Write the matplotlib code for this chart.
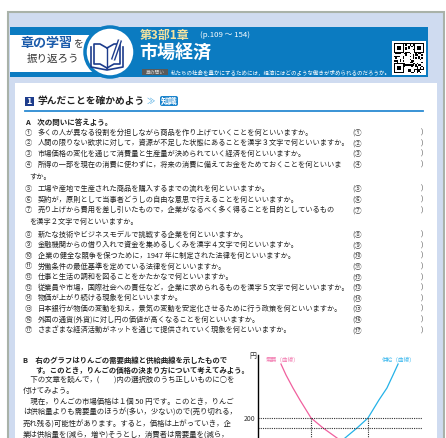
import numpy as np
import matplotlib.pyplot as plt
from matplotlib.patches import Rectangle, Circle, FancyBboxPatch

plt.rcParams['font.family'] = ['Noto Sans CJK JP', 'DejaVu Sans']

# ============================================
# Page text
# ============================================

chapter = "第3部1章"
pages = "(p.109 ～ 154)"
chapter_title = "市場経済"
chapter_question = "私たちの社会を豊かにするためには，経済にはどのような働きが求められるのだろうか。"

marks = ["①", "②", "③", "④", "⑤", "⑥", "⑦", "⑧", "⑨",
         "⑩", "⑪", "⑫", "⑬", "⑭", "⑮", "⑯", "⑰"]

questions = [
    "多くの人が異なる役割を分担しながら商品を作り上げていくことを何といいますか。",
    "人間の限りない欲求に対して，資源が不足した状態にあることを漢字３文字で何といいますか。",
    "市場価格の変化を通じて消費量と生産量が決められていく経済を何といいますか。",
    "所得の一部を現在の消費に使わずに，将来の消費に備えてお金をためておくことを何といいま",
    "工場や産地で生産された商品を購入するまでの流れを何といいますか。",
    "契約が，原則として当事者どうしの自由な意思で行えることを何といいますか。",
    "売り上げから費用を差し引いたもので，企業がなるべく多く得ることを目的としているもの",
    "新たな技術やビジネスモデルで挑戦する企業を何といいますか。",
    "金融機関からの借り入れで資金を集めるしくみを漢字４文字で何といいますか。",
    "企業の健全な競争を保つために，1947 年に制定された法律を何といいますか。",
    "労働条件の最低基準を定めている法律を何といいますか。",
    "仕事と生活の調和を図ることをかたかなで何といいますか。",
    "従業員や市場，国際社会への責任など，企業に求められるものを漢字５文字で何といいますか。",
    "物価が上がり続ける現象を何といいますか。",
    "日本銀行が物価の変動を抑え，景気の変動を安定化させるために行う政策を何といいますか。",
    "外国の通貨(外貨)に対し円の価値が高くなることを何といいますか。",
    "さまざまな経済活動がネットを通じて提供されていく現象を何といいますか。",
]

question_tails = ["", "", "", "すか。", "", "", "を漢字２文字で何といいますか。",
                  "", "", "", "", "", "", "", "", "", ""]

b_lines = [
    "B　右のグラフはりんごの需要曲線と供給曲線を示したもので",
    "す。このとき，りんごの価格の決まり方について考えてみよう。",
    "　下の文章を読んで，(　　)内の選択肢のうち正しいものに○を",
    "付けてみよう。",
    "　現在，りんごの市場価格は１個 50 円です。このとき，りんご",
    "は供給量よりも需要量のほうが(多い，少ない)ので(売り切れる，",
    "売れ残る)可能性があります。すると，価格は上がっていき，企",
    "業は供給量を(減ら，増や)そうとし，消費者は需要量を(減ら，",
]

# ============================================
# Graph data (quantity, price in yen)
# ============================================

price_label = 200
lower_price = 150

demand_q = [13.2, 16.1, 20.1, 24.1, 30.5, 37.4, 45.4, 54.0]
demand_p = [470, 415, 350, 290, 200, 150, 100, 50]

supply_q = [80.5, 77.6, 74.1, 69.5, 63.2, 56.9, 50.0, 43.1]
supply_p = [470, 415, 350, 290, 200, 150, 100, 50]

# ============================================
# Layout
# ============================================

W, H = 446, 438
BLUE = "#0b7bc1"
NAVY = "#1d3c8c"
FRAME = "#cfdbf0"
TEXT = "#222222"
PINK = "#f0609e"
CYAN = "#24b2e8"
FS = 5.2

fig = plt.figure(figsize=(W / 100, H / 100), dpi=100)
ax = fig.add_axes([0, 0, 1, 1])
ax.set_xlim(0, W)
ax.set_ylim(H, 0)
ax.axis("off")

# frame
ax.add_patch(Rectangle((8, 12), 436, 430, facecolor=FRAME, edgecolor="#a9b2a9", lw=1.5))
ax.add_patch(Rectangle((15, 83), 422, 360, facecolor="white", edgecolor="none"))

# header band
ax.add_patch(Rectangle((10, 27), 418, 50, facecolor=BLUE, edgecolor="none"))
ax.add_patch(Rectangle((10, 35), 85, 37, facecolor="white", edgecolor="none"))
ax.add_patch(Circle((110, 52), 25, facecolor="white", edgecolor=BLUE, lw=2.5))

# book icon
ax.plot([107, 100, 94, 94, 100, 107], [48, 44, 44, 64, 64, 68], color=NAVY, lw=1.2)
ax.plot([107, 114, 120, 120, 114, 107], [48, 44, 44, 64, 64, 68], color=NAVY, lw=1.2)
ax.plot([107, 107], [48, 68], color=NAVY, lw=1.0)
ax.plot([91, 91, 107, 123, 123], [47, 67, 70, 67, 47], color=NAVY, lw=1.2)
ax.plot([113, 120], [60, 40], color=NAVY, lw=3.2, solid_capstyle="butt")
ax.plot([113, 120], [60, 40], color="white", lw=1.2, solid_capstyle="butt")

ax.text(20, 43, "章の学習", color="#1c5cab", fontsize=9.4, fontweight="bold", va="center")
ax.text(73, 44, "を", color="#333333", fontsize=7, va="center")
ax.text(27, 59, "振り返ろう", color="#333333", fontsize=7.6, va="center")

ax.text(140, 35, chapter, color="#f3e2a0", fontsize=8.6, fontweight="bold", va="center")
ax.text(200, 35, pages, color="white", fontsize=5.6, va="center")
ax.text(139, 53, chapter_title, color="white", fontsize=13, fontweight="bold", va="center")
ax.add_patch(Rectangle((142, 68.5), 26, 6.5, facecolor="#5a5a5a", edgecolor="none"))
ax.text(155, 71.8, "章の問い", color="#dddddd", fontsize=3.4, ha="center", va="center")
ax.text(171, 71.8, chapter_question, color="white", fontsize=3.95, va="center")

# QR code block
ax.add_patch(Rectangle((392, 41), 34, 34, facecolor="white", edgecolor="none", zorder=4))
n = 21
qr = np.array([[((i * 5 + j * 3) ^ (i * j)) % 3 == 0 for j in range(n)] for i in range(n)], float)
for r0, c0 in [(0, 0), (0, n - 7), (n - 7, 0)]:
    qr[r0:r0 + 7, c0:c0 + 7] = 1
    qr[r0 + 1:r0 + 6, c0 + 1:c0 + 6] = 0
    qr[r0 + 2:r0 + 5, c0 + 2:c0 + 5] = 1
cell = 30 / n
for i in range(n):
    for j in range(n):
        if qr[i, j]:
            ax.add_patch(Rectangle((394 + j * cell, 43 + i * cell), cell, cell,
                                   facecolor="black", edgecolor="none", zorder=5))

# section heading
ax.add_patch(Rectangle((25, 96.5), 8.5, 9, facecolor=NAVY, edgecolor="none"))
ax.text(29.2, 101, "1", color="white", fontsize=6.5, fontweight="bold", ha="center", va="center")
ax.text(37, 101, "学んだことを確かめよう", color=TEXT, fontsize=7, fontweight="bold", va="center")
ax.text(147, 101, "≫", color="#4aa8e0", fontsize=6, va="center")
ax.add_patch(FancyBboxPatch((160, 96), 18, 10, boxstyle="round,pad=0,rounding_size=2",
                            facecolor="#1a83cc", edgecolor="none"))
ax.text(169, 101, "知識", color="white", fontsize=6, fontweight="bold", ha="center", va="center")
ax.plot([25, 423], [111, 111], color="#2a8ad2", lw=1.3)

ax.text(25, 122, "A　次の問いに答えよう。", color=TEXT, fontsize=5.4, fontweight="bold", va="center")

y = 132.7
for mark, q, tail in zip(marks, questions, question_tails):
    ax.text(25, y, mark, color="#444444", fontsize=FS, va="center")
    ax.text(38, y, q, color=TEXT, fontsize=FS, va="center")
    ax.text(352, y, "(" + mark, color="#444444", fontsize=FS, va="center")
    ax.text(421, y, ")", color="#444444", fontsize=FS, va="center")
    if tail:
        y += 12
        ax.text(29, y, tail, color=TEXT, fontsize=FS, va="center")
        y += 12.5
    else:
        y += 10.6

# part B text
b_y = [360, 370, 380, 391, 402, 413, 425, 435]
for i, (line, ly) in enumerate(zip(b_lines, b_y)):
    bold = i < 2
    x0 = 35 if i == 1 else 23
    ax.text(x0, ly, line, color=TEXT, fontsize=5.35,
            fontweight="bold" if bold else "normal", va="center")

# ============================================
# Supply and demand graph
# ============================================

gx0, gx1, gy0, gy1 = 258, 432, 352, 470
axg = fig.add_axes([gx0 / W, 1 - gy1 / H, (gx1 - gx0) / W, (gy1 - gy0) / H])
axg.set_xlim(0, 100)
axg.set_ylim(-60, 530)
axg.patch.set_alpha(0)
for side in ["top", "right", "bottom"]:
    axg.spines[side].set_visible(False)
axg.spines["left"].set_bounds(-60, 515)
axg.spines["left"].set_linewidth(1.0)
axg.set_xticks([])
axg.set_yticks([price_label])
axg.set_yticklabels([str(price_label)])
axg.tick_params(axis="y", length=0, labelsize=5, pad=2, labelcolor="#333333")

axg.plot(demand_q, demand_p, color=PINK, lw=0.9)
axg.plot(supply_q, supply_p, color=CYAN, lw=0.9)

q_d = np.interp(price_label, demand_p[::-1], demand_q[::-1])
q_s = np.interp(price_label, supply_p[::-1], supply_q[::-1])
axg.hlines([price_label, lower_price], 0, 94, colors="#333333", linestyles=(0, (1, 1)), lw=0.8)
axg.vlines([q_d, q_s], -60, price_label, colors="#333333", linestyles=(0, (1, 1)), lw=0.8)

axg.text(-1, 510, "円", fontsize=5, ha="right", va="center", color="#333333")
axg.text(4.6, 490, "需要（曲線）", fontsize=4.1, color="#f27bb0", va="center")
axg.text(71.3, 490, "供給（曲線）", fontsize=4.1, color="#3bb8ee", va="center")

fig.savefig("out.png", dpi=100)
plt.close(fig)
